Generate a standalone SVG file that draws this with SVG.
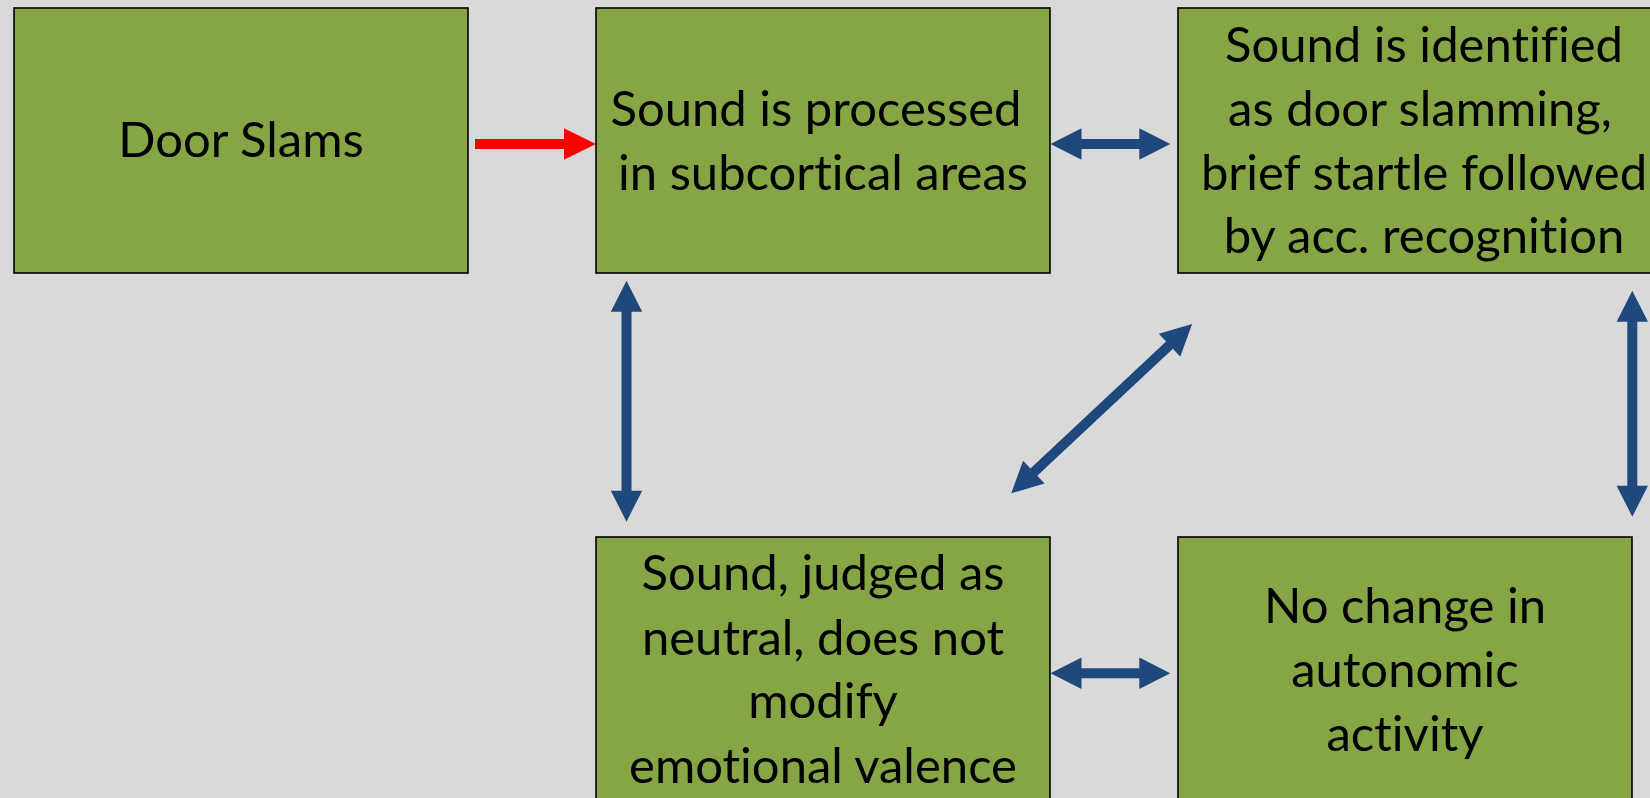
<svg xmlns="http://www.w3.org/2000/svg" width="1650" height="798" viewBox="0 0 1650 798">
<style>
.box{fill:#86A645;stroke:#000;stroke-width:1.6}
.t{font-family:"Lato","Liberation Sans",sans-serif;font-size:49px;fill:#000;text-anchor:middle;font-variant-ligatures:none}
.blue{fill:#1F497D}
.red{fill:#FF0000}
</style>
<rect x="0" y="0" width="1650" height="798" fill="#D9D9D9"/>
<g id="n1">
<rect class="box" x="14" y="8" width="454" height="265"/>
<text class="t" x="241" y="157">Door Slams</text>
</g>
<g id="n2">
<rect class="box" x="596" y="8" width="454" height="265"/>
<text class="t" x="816" y="126">Sound is processed</text>
<text class="t" x="823" y="190">in subcortical areas</text>
</g>
<g id="n3">
<rect class="box" x="1178" y="8" width="492" height="265"/>
<text class="t" x="1424" y="62">Sound is identified</text>
<text class="t" x="1420" y="126">as door slamming,</text>
<text class="t" x="1424" y="190">brief startle followed</text>
<text class="t" x="1424" y="253">by acc. recognition</text>
</g>
<g id="n4">
<rect class="box" x="596" y="537" width="454" height="265"/>
<text class="t" x="823" y="590">Sound, judged as</text>
<text class="t" x="823" y="655">neutral, does not</text>
<text class="t" x="823" y="718">modify</text>
<text class="t" x="823" y="783">emotional valence</text>
</g>
<g id="n5">
<rect class="box" x="1178" y="537" width="454" height="265"/>
<text class="t" x="1405" y="623">No change in</text>
<text class="t" x="1405" y="687">autonomic</text>
<text class="t" x="1405" y="751">activity</text>
</g>
<g id="connectors">
<polygon class="red" points="475,139 564,139 564,128.3 596,144 564,159.7 564,149 475,149"/>
<polygon class="blue" points="1050.5,144 1081.5,128.3 1081.5,139 1139.3,139 1139.3,128.3 1170.3,144 1139.3,159.7 1139.3,149 1081.5,149 1081.5,159.7"/>
<polygon class="blue" points="1050.5,673.3 1081.5,657.6 1081.5,668.3 1139.3,668.3 1139.3,657.6 1170.3,673.3 1139.3,689 1139.3,678.3 1081.5,678.3 1081.5,689"/>
<polygon class="blue" points="626.5,280.7 642.2,311.7 631.5,311.7 631.5,490.7 642.2,490.7 626.5,521.7 610.8,490.7 621.5,490.7 621.5,311.7 610.8,311.7"/>
<polygon class="blue" points="1632.3,290.7 1648,321.7 1637.3,321.7 1637.3,485.7 1648,485.7 1632.3,516.7 1616.6,485.7 1627.3,485.7 1627.3,321.7 1616.6,321.7"/>
<polygon class="blue" transform="translate(1011.2,493.3) rotate(-43.1)" points="0,0 31,-15.7 31,-5 216.8,-5 216.8,-15.7 247.8,0 216.8,15.7 216.8,5 31,5 31,15.7"/>
</g>
</svg>
